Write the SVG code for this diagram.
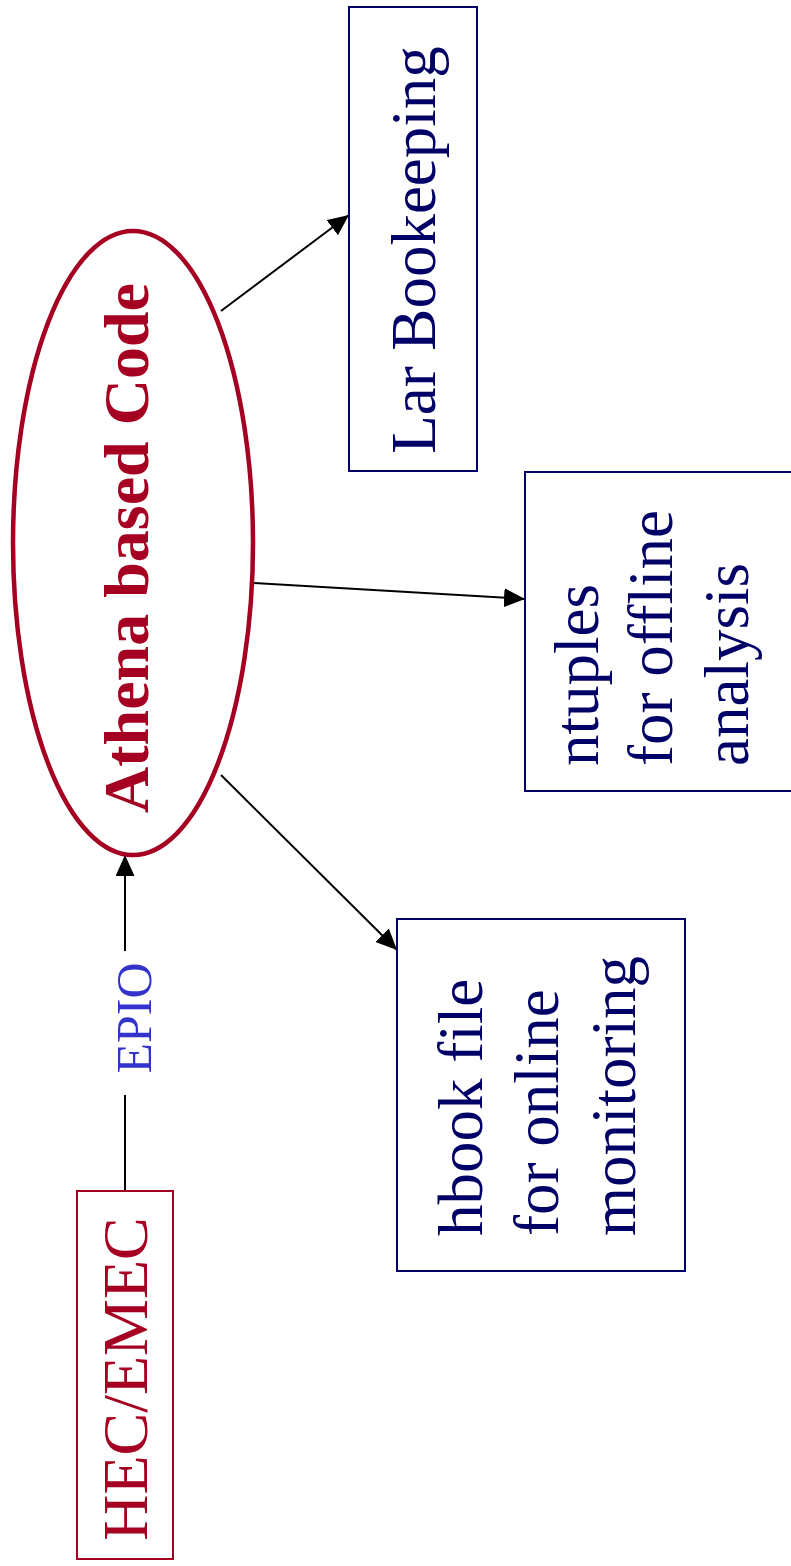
<svg xmlns="http://www.w3.org/2000/svg" width="791" height="1566" viewBox="0 0 791 1566">
<defs>
<marker id="arr" markerUnits="userSpaceOnUse" markerWidth="21" markerHeight="19" refX="21" refY="9.5" orient="auto">
<path d="M0,0 L21,9.5 L0,19 z" fill="#000"/>
</marker>
<style>
.t{font-family:"Liberation Serif","Times New Roman",serif;}
.box{fill:#fff;stroke:#000066;stroke-width:2;}
.navy{fill:#000066;font-size:63px;}
.red{fill:#a50021;}
.conn{stroke:#000;stroke-width:2;fill:none;}
</style>
</defs>
<rect width="791" height="1566" fill="#fff"/>
<g id="connectors">
<line class="conn" x1="125" y1="1191" x2="125" y2="1095"/>
<line class="conn" x1="125" y1="951" x2="125" y2="855" marker-end="url(#arr)"/>
<line class="conn" x1="221" y1="311" x2="349" y2="215" marker-end="url(#arr)"/>
<line class="conn" x1="253" y1="583" x2="525" y2="599" marker-end="url(#arr)"/>
<line class="conn" x1="221" y1="775" x2="397" y2="950" marker-end="url(#arr)"/>
<text class="t" transform="translate(151,1018) rotate(-90)" text-anchor="middle" font-size="50" fill="#3333cc">EPIO</text>
</g>
<g id="hec">
<rect x="77" y="1191" width="96" height="368" fill="#fff" stroke="#a50021" stroke-width="2"/>
<text class="t red" transform="translate(147,1379) rotate(-90)" text-anchor="middle" font-size="64">HEC/EMEC</text>
</g>
<g id="athena">
<ellipse cx="133" cy="543" rx="120" ry="312" fill="none" stroke="#a50021" stroke-width="4.5"/>
<text class="t red" transform="translate(148,548) rotate(-90)" text-anchor="middle" font-size="64" font-weight="bold">Athena based Code</text>
</g>
<g id="lar">
<rect class="box" x="349" y="7" width="128" height="464"/>
<text class="t navy" transform="translate(435,250) rotate(-90)" text-anchor="middle" font-size="64">Lar Bookeeping</text>
</g>
<g id="ntuples">
<rect class="box" x="525" y="472" width="280" height="319"/>
<text class="t navy" transform="translate(598,766) rotate(-90)">ntuples</text>
<text class="t navy" transform="translate(672,766) rotate(-90)">for offline</text>
<text class="t navy" transform="translate(748,766) rotate(-90)">analysis</text>
</g>
<g id="hbook">
<rect class="box" x="397" y="919" width="288" height="352"/>
<text class="t navy" transform="translate(482,1236) rotate(-90)">hbook file</text>
<text class="t navy" transform="translate(558,1236) rotate(-90)">for online</text>
<text class="t navy" transform="translate(635,1236) rotate(-90)">monitoring</text>
</g>
</svg>
